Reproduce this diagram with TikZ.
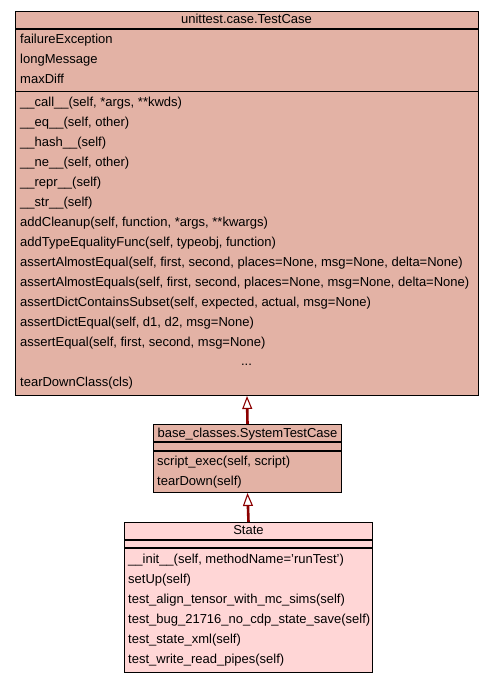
\documentclass[tikz,border=0pt]{standalone}
\usepackage{fontspec}
\setmainfont{Liberation Sans}
\usetikzlibrary{arrows.meta}
\definecolor{classfill}{HTML}{E3B2A5}
\definecolor{leaffill}{HTML}{FFD6D6}
\definecolor{inheritred}{HTML}{8B0000}

\tikzset{
    classbox/.style={draw=black, fill=classfill, line width=1pt, anchor=north west, inner sep=0pt},
    member/.style={anchor=base west, inner sep=0pt},
    classname/.style={anchor=base, inner sep=0pt},
    separator/.style={draw=black, line width=1.2pt},
    inherits/.style={draw=inheritred, line width=2.6pt,
        -{Triangle[open, fill=white, line width=1.1pt, length=13pt, width=10pt]}}
}

\begin{document}
\begin{tikzpicture}[x=1pt, y=-1pt, font=\fontsize{13}{15}\selectfont]
    \useasboundingbox (0,0) rectangle (493,683);

    % unittest.case.TestCase
    \node[classbox, minimum width=463pt, minimum height=384pt] (testcase) at (15,11) {};
    \node[classname] (tc-title) at (246.5,23.5) {unittest.case.TestCase};
    \draw[separator] (testcase.west |- 0,29) -- (testcase.east |- 0,29);
    \draw[separator] (testcase.west |- 0,91.5) -- (testcase.east |- 0,91.5);
    \foreach \name [count=\i from 0] in {failureException, longMessage, maxDiff}
        \node[member] (tc-attr\i) at (20,43.5+20*\i) {\name};
    \foreach \name [count=\i from 0] in {
        \_\_call\_\_(self{,} *args{,} **kwds),
        \_\_eq\_\_(self{,} other),
        \_\_hash\_\_(self),
        \_\_ne\_\_(self{,} other),
        \_\_repr\_\_(self),
        \_\_str\_\_(self),
        addCleanup(self{,} function{,} *args{,} **kwargs),
        addTypeEqualityFunc(self{,} typeobj{,} function),
        assertAlmostEqual(self{,} first{,} second{,} places=None{,} msg=None{,} delta=None),
        assertAlmostEquals(self{,} first{,} second{,} places=None{,} msg=None{,} delta=None),
        assertDictContainsSubset(self{,} expected{,} actual{,} msg=None),
        assertDictEqual(self{,} d1{,} d2{,} msg=None),
        assertEqual(self{,} first{,} second{,} msg=None)}
        \node[member] (tc-op\i) at (20,106.5+20*\i) {\name};
    \node[classname] (tc-more) at (246.5,365.5) {...};
    \node[member] (tc-last) at (20,386.5) {tearDownClass(cls)};

    % base_classes.SystemTestCase
    \node[classbox, minimum width=188pt, minimum height=68pt] (systest) at (153,424) {};
    \node[classname] (st-title) at (systest.north |- 0,437) {base\_classes.SystemTestCase};
    \draw[separator] (systest.west |- 0,442) -- (systest.east |- 0,442);
    \draw[separator] (systest.west |- 0,451) -- (systest.east |- 0,451);
    \node[member] (st-op0) at (157,465.5) {script\_exec(self, script)};
    \node[member] (st-op1) at (157,485.5) {tearDown(self)};

    % State
    \node[classbox, fill=leaffill, minimum width=248pt, minimum height=150pt] (state) at (124,522) {};
    \node[classname] (sa-title) at (state.north |- 0,534.5) {State};
    \draw[separator] (state.west |- 0,540) -- (state.east |- 0,540);
    \draw[separator] (state.west |- 0,548) -- (state.east |- 0,548);
    \foreach \name [count=\i from 0] in {
        \_\_init\_\_(self{,} methodName='runTest'),
        setUp(self),
        test\_align\_tensor\_with\_mc\_sims(self),
        test\_bug\_21716\_no\_cdp\_state\_save(self),
        test\_state\_xml(self),
        test\_write\_read\_pipes(self)}
        \node[member] (sa-op\i) at (128,563.5+20*\i) {\name};

    % inheritance
    \draw[inherits] (systest.north) -- (testcase.south);
    \draw[inherits] (state.north) -- (systest.south);
\end{tikzpicture}
\end{document}
